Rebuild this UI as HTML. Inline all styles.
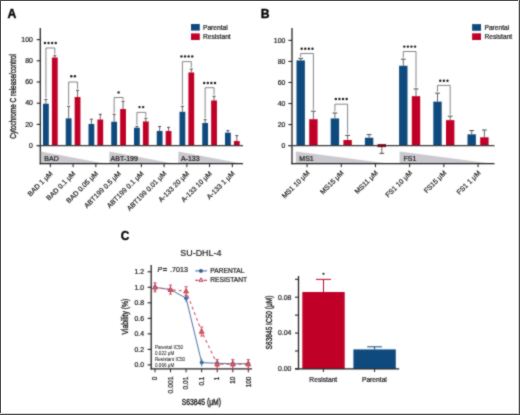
<!DOCTYPE html><html><head><meta charset="utf-8"><style>
html,body{margin:0;padding:0;background:#fff;width:520px;height:415px;overflow:hidden}
svg{display:block;will-change:transform}
text{font-family:"Liberation Sans",sans-serif;fill:#1e1e1e;stroke:#1e1e1e;stroke-width:0.22px}
</style></head><body>
<svg width="520" height="415" viewBox="0 0 520 415">
<defs><filter id="bl" x="0" y="0" width="520" height="415" filterUnits="userSpaceOnUse" color-interpolation-filters="sRGB"><feConvolveMatrix order="3" kernelMatrix="1 2 1 2 12 2 1 2 1" divisor="24" edgeMode="duplicate"/></filter></defs><g filter="url(#bl)">
<rect x="0" y="0" width="520" height="415" fill="#fff"/>
<text x="7.5" y="18.2" font-size="12.2" font-weight="bold" style="fill:#000;stroke:#000;stroke-width:0.35px">A</text>
<line x1="40.3" y1="28" x2="40.3" y2="164.2" stroke="#222" stroke-width="1.3"/>
<line x1="36.70" y1="145.60" x2="40.3" y2="145.60" stroke="#222" stroke-width="1.1"/>
<text x="32.8" y="147.80" font-size="6.9" text-anchor="end">0</text>
<line x1="36.70" y1="124.40" x2="40.3" y2="124.40" stroke="#222" stroke-width="1.1"/>
<text x="32.8" y="126.60" font-size="6.9" text-anchor="end">20</text>
<line x1="36.70" y1="103.20" x2="40.3" y2="103.20" stroke="#222" stroke-width="1.1"/>
<text x="32.8" y="105.40" font-size="6.9" text-anchor="end">40</text>
<line x1="36.70" y1="82.00" x2="40.3" y2="82.00" stroke="#222" stroke-width="1.1"/>
<text x="32.8" y="84.20" font-size="6.9" text-anchor="end">60</text>
<line x1="36.70" y1="60.80" x2="40.3" y2="60.80" stroke="#222" stroke-width="1.1"/>
<text x="32.8" y="63.00" font-size="6.9" text-anchor="end">80</text>
<line x1="36.70" y1="39.60" x2="40.3" y2="39.60" stroke="#222" stroke-width="1.1"/>
<text x="32.8" y="41.80" font-size="6.9" text-anchor="end">100</text>
<polygon points="40.8,151.6 40.8,163.3 103,163.3" fill="#cbc9cf"/>
<text x="44.3" y="160.8" font-size="7">BAD</text>
<polygon points="109.4,151.6 109.4,163.3 172,163.3" fill="#cbc9cf"/>
<text x="110.6" y="160.8" font-size="7">ABT-199</text>
<polygon points="178.4,151.6 178.4,163.3 240,163.3" fill="#cbc9cf"/>
<text x="180.9" y="160.8" font-size="7">A-133</text>
<line x1="39.70" y1="163.6" x2="243" y2="163.6" stroke="#222" stroke-width="1.2"/>
<rect x="43.00" y="103.73" width="5.8" height="41.87" fill="#0f4a7f"/>
<line x1="45.90" y1="103.73" x2="45.90" y2="99.50" stroke="#4a4a4a" stroke-width="0.85"/>
<line x1="44.40" y1="99.50" x2="47.40" y2="99.50" stroke="#3a3a3a" stroke-width="0.9"/>
<rect x="51.90" y="57.51" width="5.8" height="88.09" fill="#c00026"/>
<line x1="54.80" y1="57.51" x2="54.80" y2="55.70" stroke="#4a4a4a" stroke-width="0.85"/>
<line x1="53.30" y1="55.70" x2="56.30" y2="55.70" stroke="#3a3a3a" stroke-width="0.9"/>
<rect x="65.75" y="118.36" width="5.8" height="27.24" fill="#0f4a7f"/>
<line x1="68.65" y1="118.36" x2="68.65" y2="106.40" stroke="#4a4a4a" stroke-width="0.85"/>
<line x1="67.15" y1="106.40" x2="70.15" y2="106.40" stroke="#3a3a3a" stroke-width="0.9"/>
<rect x="74.65" y="97.05" width="5.8" height="48.55" fill="#c00026"/>
<line x1="77.55" y1="97.05" x2="77.55" y2="90.30" stroke="#4a4a4a" stroke-width="0.85"/>
<line x1="76.05" y1="90.30" x2="79.05" y2="90.30" stroke="#3a3a3a" stroke-width="0.9"/>
<rect x="88.50" y="123.98" width="5.8" height="21.62" fill="#0f4a7f"/>
<line x1="91.40" y1="123.98" x2="91.40" y2="119.20" stroke="#4a4a4a" stroke-width="0.85"/>
<line x1="89.90" y1="119.20" x2="92.90" y2="119.20" stroke="#3a3a3a" stroke-width="0.9"/>
<rect x="97.40" y="119.52" width="5.8" height="26.08" fill="#c00026"/>
<line x1="100.30" y1="119.52" x2="100.30" y2="114.30" stroke="#4a4a4a" stroke-width="0.85"/>
<line x1="98.80" y1="114.30" x2="101.80" y2="114.30" stroke="#3a3a3a" stroke-width="0.9"/>
<rect x="111.25" y="121.75" width="5.8" height="23.85" fill="#0f4a7f"/>
<line x1="114.15" y1="121.75" x2="114.15" y2="114.30" stroke="#4a4a4a" stroke-width="0.85"/>
<line x1="112.65" y1="114.30" x2="115.65" y2="114.30" stroke="#3a3a3a" stroke-width="0.9"/>
<rect x="120.15" y="109.03" width="5.8" height="36.57" fill="#c00026"/>
<line x1="123.05" y1="109.03" x2="123.05" y2="101.30" stroke="#4a4a4a" stroke-width="0.85"/>
<line x1="121.55" y1="101.30" x2="124.55" y2="101.30" stroke="#3a3a3a" stroke-width="0.9"/>
<rect x="134.00" y="127.79" width="5.8" height="17.81" fill="#0f4a7f"/>
<line x1="136.90" y1="127.79" x2="136.90" y2="126.50" stroke="#4a4a4a" stroke-width="0.85"/>
<line x1="135.40" y1="126.50" x2="138.40" y2="126.50" stroke="#3a3a3a" stroke-width="0.9"/>
<rect x="142.90" y="121.43" width="5.8" height="24.17" fill="#c00026"/>
<line x1="145.80" y1="121.43" x2="145.80" y2="118.30" stroke="#4a4a4a" stroke-width="0.85"/>
<line x1="144.30" y1="118.30" x2="147.30" y2="118.30" stroke="#3a3a3a" stroke-width="0.9"/>
<rect x="156.75" y="130.97" width="5.8" height="14.63" fill="#0f4a7f"/>
<line x1="159.65" y1="130.97" x2="159.65" y2="126.50" stroke="#4a4a4a" stroke-width="0.85"/>
<line x1="158.15" y1="126.50" x2="161.15" y2="126.50" stroke="#3a3a3a" stroke-width="0.9"/>
<rect x="165.65" y="130.97" width="5.8" height="14.63" fill="#c00026"/>
<line x1="168.55" y1="130.97" x2="168.55" y2="127.30" stroke="#4a4a4a" stroke-width="0.85"/>
<line x1="167.05" y1="127.30" x2="170.05" y2="127.30" stroke="#3a3a3a" stroke-width="0.9"/>
<rect x="179.50" y="111.79" width="5.8" height="33.81" fill="#0f4a7f"/>
<line x1="182.40" y1="111.79" x2="182.40" y2="106.40" stroke="#4a4a4a" stroke-width="0.85"/>
<line x1="180.90" y1="106.40" x2="183.90" y2="106.40" stroke="#3a3a3a" stroke-width="0.9"/>
<rect x="188.40" y="72.46" width="5.8" height="73.14" fill="#c00026"/>
<line x1="191.30" y1="72.46" x2="191.30" y2="69.10" stroke="#4a4a4a" stroke-width="0.85"/>
<line x1="189.80" y1="69.10" x2="192.80" y2="69.10" stroke="#3a3a3a" stroke-width="0.9"/>
<rect x="202.25" y="123.02" width="5.8" height="22.58" fill="#0f4a7f"/>
<line x1="205.15" y1="123.02" x2="205.15" y2="119.70" stroke="#4a4a4a" stroke-width="0.85"/>
<line x1="203.65" y1="119.70" x2="206.65" y2="119.70" stroke="#3a3a3a" stroke-width="0.9"/>
<rect x="211.15" y="100.44" width="5.8" height="45.16" fill="#c00026"/>
<line x1="214.05" y1="100.44" x2="214.05" y2="96.30" stroke="#4a4a4a" stroke-width="0.85"/>
<line x1="212.55" y1="96.30" x2="215.55" y2="96.30" stroke="#3a3a3a" stroke-width="0.9"/>
<rect x="225.00" y="132.67" width="5.8" height="12.93" fill="#0f4a7f"/>
<line x1="227.90" y1="132.67" x2="227.90" y2="130.60" stroke="#4a4a4a" stroke-width="0.85"/>
<line x1="226.40" y1="130.60" x2="229.40" y2="130.60" stroke="#3a3a3a" stroke-width="0.9"/>
<rect x="233.90" y="141.04" width="5.8" height="4.56" fill="#c00026"/>
<line x1="236.80" y1="141.04" x2="236.80" y2="135.60" stroke="#4a4a4a" stroke-width="0.85"/>
<line x1="235.30" y1="135.60" x2="238.30" y2="135.60" stroke="#3a3a3a" stroke-width="0.9"/>
<line x1="36.70" y1="145.6" x2="243" y2="145.6" stroke="#3a3a3a" stroke-width="1.2"/>
<line x1="50.35" y1="163.6" x2="50.35" y2="167.2" stroke="#222" stroke-width="1"/>
<text x="0" y="0" font-size="7" text-anchor="end" transform="translate(53.15,174) rotate(-45)">BAD 1 μM</text>
<line x1="73.10" y1="163.6" x2="73.10" y2="167.2" stroke="#222" stroke-width="1"/>
<text x="0" y="0" font-size="7" text-anchor="end" transform="translate(75.90,174) rotate(-45)">BAD 0.1 μM</text>
<line x1="95.85" y1="163.6" x2="95.85" y2="167.2" stroke="#222" stroke-width="1"/>
<text x="0" y="0" font-size="7" text-anchor="end" transform="translate(98.65,174) rotate(-45)">BAD 0.05 μM</text>
<line x1="118.60" y1="163.6" x2="118.60" y2="167.2" stroke="#222" stroke-width="1"/>
<text x="0" y="0" font-size="7" text-anchor="end" transform="translate(121.40,174) rotate(-45)">ABT199 0.5 μM</text>
<line x1="141.35" y1="163.6" x2="141.35" y2="167.2" stroke="#222" stroke-width="1"/>
<text x="0" y="0" font-size="7" text-anchor="end" transform="translate(144.15,174) rotate(-45)">ABT199 0.1 μM</text>
<line x1="164.10" y1="163.6" x2="164.10" y2="167.2" stroke="#222" stroke-width="1"/>
<text x="0" y="0" font-size="7" text-anchor="end" transform="translate(166.90,174) rotate(-45)">ABT199 0.01 μM</text>
<line x1="186.85" y1="163.6" x2="186.85" y2="167.2" stroke="#222" stroke-width="1"/>
<text x="0" y="0" font-size="7" text-anchor="end" transform="translate(189.65,174) rotate(-45)">A-133 20 μM</text>
<line x1="209.60" y1="163.6" x2="209.60" y2="167.2" stroke="#222" stroke-width="1"/>
<text x="0" y="0" font-size="7" text-anchor="end" transform="translate(212.40,174) rotate(-45)">A-133 10 μM</text>
<line x1="232.35" y1="163.6" x2="232.35" y2="167.2" stroke="#222" stroke-width="1"/>
<text x="0" y="0" font-size="7" text-anchor="end" transform="translate(235.15,174) rotate(-45)">A-133 1 μM</text>
<polyline points="45.90,98.00 45.90,48 54.80,48 54.80,54.20" fill="none" stroke="#666" stroke-width="0.8"/>
<circle cx="44.95" cy="43" r="1.2" fill="#1a1a1a"/>
<circle cx="48.55" cy="43" r="1.2" fill="#1a1a1a"/>
<circle cx="52.15" cy="43" r="1.2" fill="#1a1a1a"/>
<circle cx="55.75" cy="43" r="1.2" fill="#1a1a1a"/>
<polyline points="68.65,104.90 68.65,82 77.55,82 77.55,88.80" fill="none" stroke="#666" stroke-width="0.8"/>
<circle cx="71.30" cy="76.3" r="1.2" fill="#1a1a1a"/>
<circle cx="74.90" cy="76.3" r="1.2" fill="#1a1a1a"/>
<polyline points="114.15,112.80 114.15,97.5 123.05,97.5 123.05,99.80" fill="none" stroke="#666" stroke-width="0.8"/>
<circle cx="118.60" cy="92.4" r="1.2" fill="#1a1a1a"/>
<polyline points="136.90,125.00 136.90,112.4 145.80,112.4 145.80,116.80" fill="none" stroke="#666" stroke-width="0.8"/>
<circle cx="139.55" cy="107.1" r="1.2" fill="#1a1a1a"/>
<circle cx="143.15" cy="107.1" r="1.2" fill="#1a1a1a"/>
<polyline points="182.40,104.90 182.40,61.6 191.30,61.6 191.30,67.60" fill="none" stroke="#666" stroke-width="0.8"/>
<circle cx="181.45" cy="56.4" r="1.2" fill="#1a1a1a"/>
<circle cx="185.05" cy="56.4" r="1.2" fill="#1a1a1a"/>
<circle cx="188.65" cy="56.4" r="1.2" fill="#1a1a1a"/>
<circle cx="192.25" cy="56.4" r="1.2" fill="#1a1a1a"/>
<polyline points="205.15,118.20 205.15,87.7 214.05,87.7 214.05,94.80" fill="none" stroke="#666" stroke-width="0.8"/>
<circle cx="204.20" cy="83" r="1.2" fill="#1a1a1a"/>
<circle cx="207.80" cy="83" r="1.2" fill="#1a1a1a"/>
<circle cx="211.40" cy="83" r="1.2" fill="#1a1a1a"/>
<circle cx="215.00" cy="83" r="1.2" fill="#1a1a1a"/>
<rect x="191" y="24" width="8.8" height="6.6" fill="#0f4a7f"/>
<rect x="191" y="33.4" width="8.8" height="6.6" fill="#c00026"/>
<text x="203" y="29.9" font-size="6.65">Parental</text>
<text x="203" y="39.3" font-size="6.65">Resistant</text>
<text x="0" y="0" font-size="9.6" text-anchor="middle" textLength="84.7" lengthAdjust="spacingAndGlyphs" style="stroke-width:0.4px" transform="translate(15.5,96.35) rotate(-90)">Cytochrome C release/control</text>
<text x="260.7" y="18.2" font-size="12.2" font-weight="bold" style="fill:#000;stroke:#000;stroke-width:0.35px">B</text>
<line x1="292" y1="28" x2="292" y2="164.2" stroke="#222" stroke-width="1.3"/>
<line x1="288.40" y1="145.60" x2="292" y2="145.60" stroke="#222" stroke-width="1.1"/>
<text x="285.3" y="147.80" font-size="6.9" text-anchor="end">0</text>
<line x1="288.40" y1="124.56" x2="292" y2="124.56" stroke="#222" stroke-width="1.1"/>
<text x="285.3" y="126.76" font-size="6.9" text-anchor="end">20</text>
<line x1="288.40" y1="103.52" x2="292" y2="103.52" stroke="#222" stroke-width="1.1"/>
<text x="285.3" y="105.72" font-size="6.9" text-anchor="end">40</text>
<line x1="288.40" y1="82.48" x2="292" y2="82.48" stroke="#222" stroke-width="1.1"/>
<text x="285.3" y="84.68" font-size="6.9" text-anchor="end">60</text>
<line x1="288.40" y1="61.44" x2="292" y2="61.44" stroke="#222" stroke-width="1.1"/>
<text x="285.3" y="63.64" font-size="6.9" text-anchor="end">80</text>
<line x1="288.40" y1="40.40" x2="292" y2="40.40" stroke="#222" stroke-width="1.1"/>
<text x="285.3" y="42.60" font-size="6.9" text-anchor="end">100</text>
<polygon points="295.8,151.6 295.8,163.3 386,163.3" fill="#cbc9cf"/>
<text x="299.3" y="160.8" font-size="7">MS1</text>
<polygon points="399.6,151.6 399.6,163.3 489,163.3" fill="#cbc9cf"/>
<text x="403.6" y="160.8" font-size="7">FS1</text>
<line x1="291.40" y1="163.6" x2="494.5" y2="163.6" stroke="#222" stroke-width="1.2"/>
<rect x="296.50" y="60.39" width="8.4" height="85.21" fill="#0f4a7f"/>
<line x1="300.70" y1="60.39" x2="300.70" y2="58.40" stroke="#4a4a4a" stroke-width="0.85"/>
<line x1="298.30" y1="58.40" x2="303.10" y2="58.40" stroke="#3a3a3a" stroke-width="0.9"/>
<rect x="309.20" y="119.19" width="8.4" height="26.41" fill="#c00026"/>
<line x1="313.40" y1="119.19" x2="313.40" y2="111.20" stroke="#4a4a4a" stroke-width="0.85"/>
<line x1="311.00" y1="111.20" x2="315.80" y2="111.20" stroke="#3a3a3a" stroke-width="0.9"/>
<rect x="330.70" y="118.46" width="8.4" height="27.14" fill="#0f4a7f"/>
<line x1="334.90" y1="118.46" x2="334.90" y2="113.00" stroke="#4a4a4a" stroke-width="0.85"/>
<line x1="332.50" y1="113.00" x2="337.30" y2="113.00" stroke="#3a3a3a" stroke-width="0.9"/>
<rect x="343.40" y="140.02" width="8.4" height="5.58" fill="#c00026"/>
<line x1="347.60" y1="140.02" x2="347.60" y2="135.40" stroke="#4a4a4a" stroke-width="0.85"/>
<line x1="345.20" y1="135.40" x2="350.00" y2="135.40" stroke="#3a3a3a" stroke-width="0.9"/>
<rect x="364.90" y="137.71" width="8.4" height="7.89" fill="#0f4a7f"/>
<line x1="369.10" y1="137.71" x2="369.10" y2="134.60" stroke="#4a4a4a" stroke-width="0.85"/>
<line x1="366.70" y1="134.60" x2="371.50" y2="134.60" stroke="#3a3a3a" stroke-width="0.9"/>
<rect x="377.60" y="145.60" width="8.4" height="1.37" fill="#c00026"/>
<line x1="381.80" y1="146.97" x2="381.80" y2="153.40" stroke="#4a4a4a" stroke-width="0.85"/>
<line x1="379.40" y1="153.40" x2="384.20" y2="153.40" stroke="#3a3a3a" stroke-width="0.9"/>
<rect x="399.10" y="65.75" width="8.4" height="79.85" fill="#0f4a7f"/>
<line x1="403.30" y1="65.75" x2="403.30" y2="59.20" stroke="#4a4a4a" stroke-width="0.85"/>
<line x1="400.90" y1="59.20" x2="405.70" y2="59.20" stroke="#3a3a3a" stroke-width="0.9"/>
<rect x="411.80" y="96.16" width="8.4" height="49.44" fill="#c00026"/>
<line x1="416.00" y1="96.16" x2="416.00" y2="88.90" stroke="#4a4a4a" stroke-width="0.85"/>
<line x1="413.60" y1="88.90" x2="418.40" y2="88.90" stroke="#3a3a3a" stroke-width="0.9"/>
<rect x="433.30" y="101.63" width="8.4" height="43.97" fill="#0f4a7f"/>
<line x1="437.50" y1="101.63" x2="437.50" y2="93.20" stroke="#4a4a4a" stroke-width="0.85"/>
<line x1="435.10" y1="93.20" x2="439.90" y2="93.20" stroke="#3a3a3a" stroke-width="0.9"/>
<rect x="446.00" y="120.14" width="8.4" height="25.46" fill="#c00026"/>
<line x1="450.20" y1="120.14" x2="450.20" y2="116.20" stroke="#4a4a4a" stroke-width="0.85"/>
<line x1="447.80" y1="116.20" x2="452.60" y2="116.20" stroke="#3a3a3a" stroke-width="0.9"/>
<rect x="467.50" y="134.34" width="8.4" height="11.26" fill="#0f4a7f"/>
<line x1="471.70" y1="134.34" x2="471.70" y2="130.60" stroke="#4a4a4a" stroke-width="0.85"/>
<line x1="469.30" y1="130.60" x2="474.10" y2="130.60" stroke="#3a3a3a" stroke-width="0.9"/>
<rect x="480.20" y="137.29" width="8.4" height="8.31" fill="#c00026"/>
<line x1="484.40" y1="137.29" x2="484.40" y2="130.00" stroke="#4a4a4a" stroke-width="0.85"/>
<line x1="482.00" y1="130.00" x2="486.80" y2="130.00" stroke="#3a3a3a" stroke-width="0.9"/>
<line x1="288.40" y1="145.6" x2="494.5" y2="145.6" stroke="#3a3a3a" stroke-width="1.2"/>
<rect x="377.60" y="144.10" width="8.4" height="3" fill="#700c1c"/>
<line x1="307.05" y1="163.6" x2="307.05" y2="167.2" stroke="#222" stroke-width="1"/>
<text x="0" y="0" font-size="7" text-anchor="end" transform="translate(310.05,173.4) rotate(-45)">MS1 10 μM</text>
<line x1="341.25" y1="163.6" x2="341.25" y2="167.2" stroke="#222" stroke-width="1"/>
<text x="0" y="0" font-size="7" text-anchor="end" transform="translate(344.25,173.4) rotate(-45)">MS15 μM</text>
<line x1="375.45" y1="163.6" x2="375.45" y2="167.2" stroke="#222" stroke-width="1"/>
<text x="0" y="0" font-size="7" text-anchor="end" transform="translate(378.45,173.4) rotate(-45)">MS11 μM</text>
<line x1="409.65" y1="163.6" x2="409.65" y2="167.2" stroke="#222" stroke-width="1"/>
<text x="0" y="0" font-size="7" text-anchor="end" transform="translate(412.65,173.4) rotate(-45)">FS1 10 μM</text>
<line x1="443.85" y1="163.6" x2="443.85" y2="167.2" stroke="#222" stroke-width="1"/>
<text x="0" y="0" font-size="7" text-anchor="end" transform="translate(446.85,173.4) rotate(-45)">FS15 μM</text>
<line x1="478.05" y1="163.6" x2="478.05" y2="167.2" stroke="#222" stroke-width="1"/>
<text x="0" y="0" font-size="7" text-anchor="end" transform="translate(481.05,173.4) rotate(-45)">FS1 1 μM</text>
<polyline points="300.70,56.90 300.70,53.5 313.40,53.5 313.40,109.70" fill="none" stroke="#666" stroke-width="0.8"/>
<circle cx="301.65" cy="48.7" r="1.2" fill="#1a1a1a"/>
<circle cx="305.25" cy="48.7" r="1.2" fill="#1a1a1a"/>
<circle cx="308.85" cy="48.7" r="1.2" fill="#1a1a1a"/>
<circle cx="312.45" cy="48.7" r="1.2" fill="#1a1a1a"/>
<polyline points="334.90,111.50 334.90,104.2 347.60,104.2 347.60,133.90" fill="none" stroke="#666" stroke-width="0.8"/>
<circle cx="335.85" cy="99" r="1.2" fill="#1a1a1a"/>
<circle cx="339.45" cy="99" r="1.2" fill="#1a1a1a"/>
<circle cx="343.05" cy="99" r="1.2" fill="#1a1a1a"/>
<circle cx="346.65" cy="99" r="1.2" fill="#1a1a1a"/>
<polyline points="403.30,57.70 403.30,51.5 416.00,51.5 416.00,87.40" fill="none" stroke="#666" stroke-width="0.8"/>
<circle cx="404.25" cy="46.6" r="1.2" fill="#1a1a1a"/>
<circle cx="407.85" cy="46.6" r="1.2" fill="#1a1a1a"/>
<circle cx="411.45" cy="46.6" r="1.2" fill="#1a1a1a"/>
<circle cx="415.05" cy="46.6" r="1.2" fill="#1a1a1a"/>
<polyline points="437.50,91.70 437.50,85.4 450.20,85.4 450.20,114.70" fill="none" stroke="#666" stroke-width="0.8"/>
<circle cx="440.25" cy="80.8" r="1.2" fill="#1a1a1a"/>
<circle cx="443.85" cy="80.8" r="1.2" fill="#1a1a1a"/>
<circle cx="447.45" cy="80.8" r="1.2" fill="#1a1a1a"/>
<rect x="472.1" y="24.1" width="8.9" height="6.7" fill="#0f4a7f"/>
<rect x="472.1" y="33.3" width="8.9" height="6.7" fill="#c00026"/>
<text x="484.5" y="29.9" font-size="6.65">Parental</text>
<text x="484.5" y="39.3" font-size="6.65">Resistant</text>
<text x="120.8" y="240.4" font-size="11.9" font-weight="bold" style="fill:#000;stroke:#000;stroke-width:0.35px">C</text>
<text x="180.3" y="255.8" font-size="9.7" textLength="41.1" lengthAdjust="spacingAndGlyphs" style="fill:#222;stroke:#222;stroke-width:0.2px">SU-DHL-4</text>
<line x1="151.2" y1="265" x2="151.2" y2="369.4" stroke="#222" stroke-width="1.3"/>
<line x1="147.6" y1="364.90" x2="151.2" y2="364.90" stroke="#222" stroke-width="1.1"/>
<text x="144" y="367.30" font-size="6.9" text-anchor="end">0.0</text>
<line x1="147.6" y1="349.38" x2="151.2" y2="349.38" stroke="#222" stroke-width="1.1"/>
<text x="144" y="351.78" font-size="6.9" text-anchor="end">0.2</text>
<line x1="147.6" y1="333.86" x2="151.2" y2="333.86" stroke="#222" stroke-width="1.1"/>
<text x="144" y="336.26" font-size="6.9" text-anchor="end">0.4</text>
<line x1="147.6" y1="318.34" x2="151.2" y2="318.34" stroke="#222" stroke-width="1.1"/>
<text x="144" y="320.74" font-size="6.9" text-anchor="end">0.6</text>
<line x1="147.6" y1="302.82" x2="151.2" y2="302.82" stroke="#222" stroke-width="1.1"/>
<text x="144" y="305.22" font-size="6.9" text-anchor="end">0.8</text>
<line x1="147.6" y1="287.30" x2="151.2" y2="287.30" stroke="#222" stroke-width="1.1"/>
<text x="144" y="289.70" font-size="6.9" text-anchor="end">1.0</text>
<line x1="147.6" y1="271.78" x2="151.2" y2="271.78" stroke="#222" stroke-width="1.1"/>
<text x="144" y="274.18" font-size="6.9" text-anchor="end">1.2</text>
<line x1="150.6" y1="368.8" x2="252" y2="368.8" stroke="#222" stroke-width="1.3"/>
<line x1="155" y1="368.8" x2="155" y2="372.3" stroke="#222" stroke-width="1"/>
<text x="0" y="0" font-size="6.4" text-anchor="end" transform="translate(157.20,376.6) rotate(-90)">0</text>
<line x1="170.5" y1="368.8" x2="170.5" y2="372.3" stroke="#222" stroke-width="1"/>
<text x="0" y="0" font-size="6.4" text-anchor="end" textLength="16.9" lengthAdjust="spacingAndGlyphs" transform="translate(172.70,376.6) rotate(-90)">0.001</text>
<line x1="186.1" y1="368.8" x2="186.1" y2="372.3" stroke="#222" stroke-width="1"/>
<text x="0" y="0" font-size="6.4" text-anchor="end" textLength="12.9" lengthAdjust="spacingAndGlyphs" transform="translate(188.30,376.6) rotate(-90)">0.01</text>
<line x1="201.7" y1="368.8" x2="201.7" y2="372.3" stroke="#222" stroke-width="1"/>
<text x="0" y="0" font-size="6.4" text-anchor="end" transform="translate(203.90,376.6) rotate(-90)">0.1</text>
<line x1="217.2" y1="368.8" x2="217.2" y2="372.3" stroke="#222" stroke-width="1"/>
<text x="0" y="0" font-size="6.4" text-anchor="end" transform="translate(219.40,376.6) rotate(-90)">1</text>
<line x1="232.8" y1="368.8" x2="232.8" y2="372.3" stroke="#222" stroke-width="1"/>
<text x="0" y="0" font-size="6.4" text-anchor="end" transform="translate(235.00,376.6) rotate(-90)">10</text>
<line x1="248.3" y1="368.8" x2="248.3" y2="372.3" stroke="#222" stroke-width="1"/>
<text x="0" y="0" font-size="6.4" text-anchor="end" transform="translate(250.50,376.6) rotate(-90)">100</text>
<text x="201.3" y="405" font-size="9.6" text-anchor="middle" textLength="39.3" lengthAdjust="spacingAndGlyphs" style="stroke-width:0.4px">S63845 (μM)</text>
<text x="0" y="0" font-size="9.5" text-anchor="middle" textLength="35.8" lengthAdjust="spacingAndGlyphs" style="stroke-width:0.4px" transform="translate(128.2,316.65) rotate(-90)">Viability (%)</text>
<text x="157.5" y="272.4" font-size="7" font-style="italic">P</text>
<text x="162.8" y="272.2" font-size="7.6" style="stroke-width:0.35px">=</text>
<text x="170.1" y="272.4" font-size="7.1">.7013</text>
<line x1="195.2" y1="270.9" x2="207" y2="270.9" stroke="#4a6fa0" stroke-width="1.1"/>
<circle cx="200.9" cy="270.9" r="1.9" fill="#2d5688"/>
<line x1="195.2" y1="280.3" x2="198.2" y2="280.3" stroke="#b8304a" stroke-width="1.1"/>
<line x1="203.8" y1="280.3" x2="207" y2="280.3" stroke="#b8304a" stroke-width="1.1"/>
<polygon points="201,277.9 203.1,281.2 198.9,281.2" fill="#fff" stroke="#a8203c" stroke-width="1"/>
<text x="210.3" y="273" font-size="6.65">PARENTAL</text>
<text x="210.3" y="282.3" font-size="6.65">RESISTANT</text>
<text x="155" y="348.70" font-size="4.6" style="stroke-width:0.05px">Parental IC50</text>
<text x="155" y="354.85" font-size="4.6" style="stroke-width:0.05px">0.022 μM</text>
<text x="155" y="361.00" font-size="4.6" style="stroke-width:0.05px">Resistant IC50</text>
<text x="155" y="367.15" font-size="4.6" style="stroke-width:0.05px">0.066 μM</text>
<polyline points="155,287.30 170.5,289.63 186.1,298.16 201.7,362.57 217.2,363.35 232.8,363.74 248.3,363.74" fill="none" stroke="#4169a0" stroke-width="0.95"/>
<polyline points="155,287.30 170.5,289.63 186.1,291.18 201.7,331.53 217.2,364.12 232.8,364.12 248.3,364.12" fill="none" stroke="#d24a5c" stroke-width="1.05" stroke-dasharray="3,3"/>
<line x1="155" y1="283.30" x2="155" y2="291.30" stroke="#4169a0" stroke-width="0.9"/>
<circle cx="155" cy="287.30" r="2" fill="#4169a0"/>
<line x1="170.5" y1="285.63" x2="170.5" y2="293.63" stroke="#4169a0" stroke-width="0.9"/>
<circle cx="170.5" cy="289.63" r="2" fill="#4169a0"/>
<line x1="186.1" y1="294.16" x2="186.1" y2="302.16" stroke="#4169a0" stroke-width="0.9"/>
<circle cx="186.1" cy="298.16" r="2" fill="#4169a0"/>
<line x1="201.7" y1="358.57" x2="201.7" y2="366.57" stroke="#4169a0" stroke-width="0.9"/>
<circle cx="201.7" cy="362.57" r="2" fill="#4169a0"/>
<line x1="217.2" y1="359.35" x2="217.2" y2="367.35" stroke="#4169a0" stroke-width="0.9"/>
<circle cx="217.2" cy="363.35" r="2" fill="#4169a0"/>
<line x1="232.8" y1="359.74" x2="232.8" y2="367.74" stroke="#4169a0" stroke-width="0.9"/>
<circle cx="232.8" cy="363.74" r="2" fill="#4169a0"/>
<line x1="248.3" y1="359.74" x2="248.3" y2="367.74" stroke="#4169a0" stroke-width="0.9"/>
<circle cx="248.3" cy="363.74" r="2" fill="#4169a0"/>
<line x1="155" y1="282.80" x2="155" y2="291.80" stroke="#c8404f" stroke-width="0.9"/>
<line x1="153.40" y1="282.80" x2="156.60" y2="282.80" stroke="#c8404f" stroke-width="0.9"/>
<line x1="153.40" y1="291.80" x2="156.60" y2="291.80" stroke="#c8404f" stroke-width="0.9"/>
<polygon points="155,284.70 157.50,289.10 152.50,289.10" fill="#d06070" stroke="#c8404f" stroke-width="0.9"/>
<line x1="170.5" y1="285.13" x2="170.5" y2="294.13" stroke="#c8404f" stroke-width="0.9"/>
<line x1="168.90" y1="285.13" x2="172.10" y2="285.13" stroke="#c8404f" stroke-width="0.9"/>
<line x1="168.90" y1="294.13" x2="172.10" y2="294.13" stroke="#c8404f" stroke-width="0.9"/>
<polygon points="170.5,287.03 173.00,291.43 168.00,291.43" fill="#d06070" stroke="#c8404f" stroke-width="0.9"/>
<line x1="186.1" y1="286.68" x2="186.1" y2="295.68" stroke="#c8404f" stroke-width="0.9"/>
<line x1="184.50" y1="286.68" x2="187.70" y2="286.68" stroke="#c8404f" stroke-width="0.9"/>
<line x1="184.50" y1="295.68" x2="187.70" y2="295.68" stroke="#c8404f" stroke-width="0.9"/>
<polygon points="186.1,288.58 188.60,292.98 183.60,292.98" fill="#d06070" stroke="#c8404f" stroke-width="0.9"/>
<line x1="201.7" y1="327.03" x2="201.7" y2="336.03" stroke="#c8404f" stroke-width="0.9"/>
<line x1="200.10" y1="327.03" x2="203.30" y2="327.03" stroke="#c8404f" stroke-width="0.9"/>
<line x1="200.10" y1="336.03" x2="203.30" y2="336.03" stroke="#c8404f" stroke-width="0.9"/>
<polygon points="201.7,328.93 204.20,333.33 199.20,333.33" fill="#d06070" stroke="#c8404f" stroke-width="0.9"/>
<line x1="217.2" y1="359.62" x2="217.2" y2="368.62" stroke="#c8404f" stroke-width="0.9"/>
<line x1="215.60" y1="359.62" x2="218.80" y2="359.62" stroke="#c8404f" stroke-width="0.9"/>
<line x1="215.60" y1="368.62" x2="218.80" y2="368.62" stroke="#c8404f" stroke-width="0.9"/>
<polygon points="217.2,361.52 219.70,365.92 214.70,365.92" fill="#d06070" stroke="#c8404f" stroke-width="0.9"/>
<line x1="232.8" y1="359.62" x2="232.8" y2="368.62" stroke="#c8404f" stroke-width="0.9"/>
<line x1="231.20" y1="359.62" x2="234.40" y2="359.62" stroke="#c8404f" stroke-width="0.9"/>
<line x1="231.20" y1="368.62" x2="234.40" y2="368.62" stroke="#c8404f" stroke-width="0.9"/>
<polygon points="232.8,361.52 235.30,365.92 230.30,365.92" fill="#d06070" stroke="#c8404f" stroke-width="0.9"/>
<line x1="248.3" y1="359.62" x2="248.3" y2="368.62" stroke="#c8404f" stroke-width="0.9"/>
<line x1="246.70" y1="359.62" x2="249.90" y2="359.62" stroke="#c8404f" stroke-width="0.9"/>
<line x1="246.70" y1="368.62" x2="249.90" y2="368.62" stroke="#c8404f" stroke-width="0.9"/>
<polygon points="248.3,361.52 250.80,365.92 245.80,365.92" fill="#d06070" stroke="#c8404f" stroke-width="0.9"/>
<line x1="298.5" y1="276" x2="298.5" y2="369.4" stroke="#222" stroke-width="1.3"/>
<line x1="295" y1="368.90" x2="298.5" y2="368.90" stroke="#222" stroke-width="1.1"/>
<line x1="295" y1="350.98" x2="298.5" y2="350.98" stroke="#222" stroke-width="1.1"/>
<line x1="295" y1="333.06" x2="298.5" y2="333.06" stroke="#222" stroke-width="1.1"/>
<line x1="295" y1="315.14" x2="298.5" y2="315.14" stroke="#222" stroke-width="1.1"/>
<line x1="295" y1="297.22" x2="298.5" y2="297.22" stroke="#222" stroke-width="1.1"/>
<line x1="295" y1="279.30" x2="298.5" y2="279.30" stroke="#222" stroke-width="1.1"/>
<text x="291.4" y="371.30" font-size="6.9" text-anchor="end">0.00</text>
<text x="291.4" y="335.46" font-size="6.9" text-anchor="end">0.04</text>
<text x="291.4" y="299.62" font-size="6.9" text-anchor="end">0.08</text>
<rect x="302.3" y="292" width="42.4" height="76.90" fill="#c00026"/>
<rect x="353.4" y="349.4" width="42.4" height="19.50" fill="#0f4a7f"/>
<line x1="323.5" y1="292" x2="323.5" y2="279.4" stroke="#c00026" stroke-width="1"/>
<line x1="316" y1="279.4" x2="331" y2="279.4" stroke="#c00026" stroke-width="1"/>
<line x1="374.6" y1="349.4" x2="374.6" y2="346.8" stroke="#0f4a7f" stroke-width="1"/>
<line x1="367.2" y1="346.8" x2="382" y2="346.8" stroke="#0f4a7f" stroke-width="1"/>
<circle cx="323.5" cy="273.8" r="1.1" fill="#222"/>
<line x1="295" y1="368.9" x2="399.2" y2="368.9" stroke="#222" stroke-width="1.3"/>
<line x1="323.4" y1="368.9" x2="323.4" y2="372" stroke="#222" stroke-width="1"/>
<line x1="374.6" y1="368.9" x2="374.6" y2="372" stroke="#222" stroke-width="1"/>
<text x="323.3" y="381.7" font-size="6.7" text-anchor="middle">Resistant</text>
<text x="374.4" y="381.7" font-size="6.7" text-anchor="middle">Parental</text>
<text x="0" y="0" font-size="9.5" text-anchor="middle" textLength="53.9" lengthAdjust="spacingAndGlyphs" style="stroke-width:0.4px" transform="translate(271.8,322.45) rotate(-90)">S63845 IC50 (μM)</text>
</g>
<g shape-rendering="crispEdges"><rect x="0" y="0" width="520" height="1" fill="#4d4d4d"/><rect x="0" y="0" width="1" height="415" fill="#4d4d4d"/><rect x="518" y="0" width="1" height="415" fill="#cfcfcf"/><rect x="519" y="0" width="1" height="415" fill="#4d4d4d"/><rect x="0" y="413" width="519" height="1" fill="#cfcfcf"/><rect x="0" y="414" width="520" height="1" fill="#4d4d4d"/></g>
</svg></body></html>
